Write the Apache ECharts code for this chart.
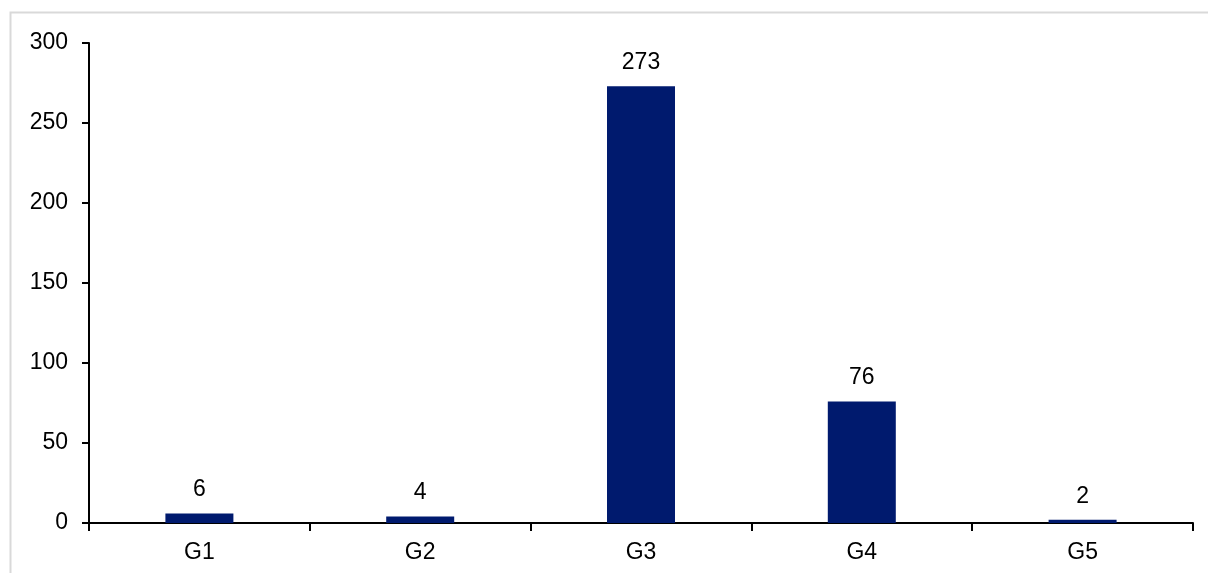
<!DOCTYPE html>
<html>
<head>
<meta charset="utf-8">
<script src="https://cdn.jsdelivr.net/npm/echarts@6/dist/echarts.min.js"></script>
<style>
  html, body { margin: 0; padding: 0; background: #fff; }
  #main { width: 1208px; height: 573px; }
</style>
</head>
<body>
<div id="main"></div>
<script>
var categories = ['G1', 'G2', 'G3', 'G4', 'G5'];
var values = [6, 4, 273, 76, 2];

var chart = echarts.init(document.getElementById('main'));
var font = 'Liberation Sans, Arial, sans-serif';

chart.setOption({
  animation: false,
  graphic: [{
    type: 'rect',
    shape: { x: 10.5, y: 12.5, width: 1210, height: 600 },
    style: { fill: 'none', stroke: '#d9d9d9', lineWidth: 2 },
    silent: true
  }],
  grid: { left: 89, right: 15, top: 43, bottom: 50 },
  xAxis: {
    type: 'category',
    data: categories,
    axisLine: { lineStyle: { color: '#000', width: 2 } },
    axisTick: { show: true, alignWithLabel: false, length: 8, lineStyle: { color: '#000', width: 2 } },
    axisLabel: { color: '#000', fontSize: 23, fontFamily: font, margin: 18 }
  },
  yAxis: {
    type: 'value',
    min: 0, max: 300, interval: 50,
    splitLine: { show: false },
    axisLine: { show: true, lineStyle: { color: '#000', width: 2 } },
    axisTick: { show: true, length: 7, lineStyle: { color: '#000', width: 2 } },
    axisLabel: { color: '#000', fontSize: 23, fontFamily: font, margin: 21 }
  },
  series: [{
    type: 'bar',
    data: values,
    barWidth: 68,
    itemStyle: { color: '#001A6E' },
    label: {
      show: true, position: 'top', distance: 12,
      color: '#000', fontSize: 23, fontFamily: font
    }
  }]
});
</script>
</body>
</html>
